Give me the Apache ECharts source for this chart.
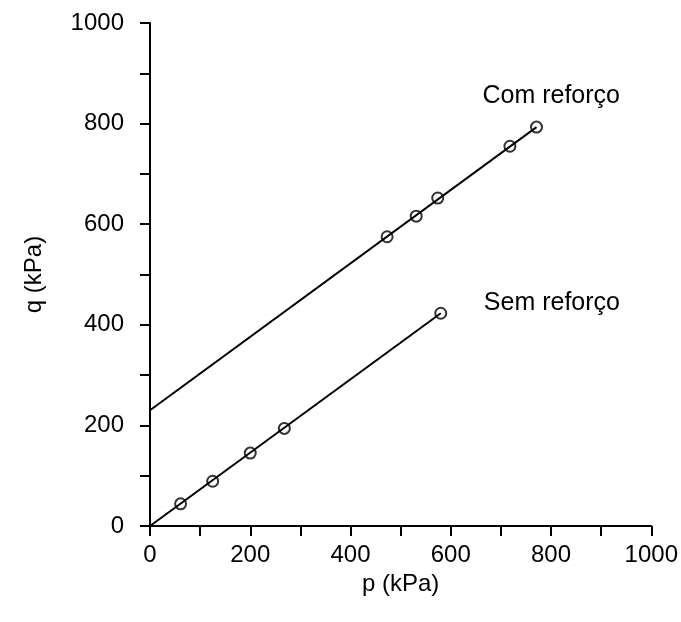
<!DOCTYPE html>
<html>
<head>
<meta charset="utf-8">
<script src="https://cdn.jsdelivr.net/npm/echarts@6/dist/echarts.min.js"></script>
<style>
  html, body { margin: 0; padding: 0; background: #fff; }
  #chart { width: 681px; height: 622px; }
</style>
</head>
<body>
<div id="chart"></div>
<script>
// Stress path data: p and q in kPa
const comReforcoP = [473, 531, 574, 718, 771];
const comReforcoQ = [575, 616, 652, 755, 793];
const semReforcoP = [61, 125, 200, 268, 580];
const semReforcoQ = [44, 89, 145, 194, 423];

// Fitted failure envelopes (start and end points)
const comLineP = [0, 771];
const comLineQ = [230, 793];
const semLineP = [0, 580];
const semLineQ = [0, 423];

const seriesNames = ['Com reforço', 'Sem reforço'];
const axisTicks = [0, 200, 400, 600, 800, 1000];

const pairs = (xs, ys) => xs.map((x, i) => [x, ys[i]]);

const FONT = 'Liberation Sans, Arial, sans-serif';
const FS = 24;

const chart = echarts.init(document.getElementById('chart'));

const axisCommon = {
  min: axisTicks[0],
  max: axisTicks[axisTicks.length - 1],
  interval: 200,
  nameLocation: 'middle',
  nameTextStyle: { fontFamily: FONT, fontSize: FS, color: '#000' },
  axisLine: { show: true, lineStyle: { color: '#000', width: 2 } },
  axisTick: { show: true, inside: false, length: 10, lineStyle: { color: '#000', width: 2 } },
  minorTick: { show: true, splitNumber: 2, length: 10, lineStyle: { color: '#000', width: 2 } },
  splitLine: { show: false },
  axisLabel: { fontFamily: FONT, fontSize: FS, color: '#000', formatter: v => String(v) }
};

chart.setOption({
  animation: false,
  backgroundColor: '#fff',
  grid: { left: 150, top: 23, width: 503, height: 503 },
  xAxis: Object.assign({}, axisCommon, {
    type: 'value',
    name: 'p (kPa)',
    nameGap: 45,
    axisLabel: Object.assign({}, axisCommon.axisLabel, { margin: 17 })
  }),
  yAxis: Object.assign({}, axisCommon, {
    type: 'value',
    name: 'q (kPa)',
    nameGap: 104,
    axisLabel: Object.assign({}, axisCommon.axisLabel, { margin: 26 })
  }),
  series: [
    {
      type: 'line',
      data: pairs(comLineP, comLineQ),
      symbol: 'none',
      lineStyle: { color: '#000', width: 2 },
      silent: true
    },
    {
      type: 'line',
      data: pairs(semLineP, semLineQ),
      symbol: 'none',
      lineStyle: { color: '#000', width: 2 },
      silent: true
    },
    {
      name: seriesNames[0],
      type: 'scatter',
      data: pairs(comReforcoP, comReforcoQ),
      symbol: 'circle',
      symbolSize: 11,
      itemStyle: { color: 'rgba(0,0,0,0)', borderColor: '#000', borderWidth: 2 }
    },
    {
      name: seriesNames[1],
      type: 'scatter',
      data: pairs(semReforcoP, semReforcoQ),
      symbol: 'circle',
      symbolSize: 11,
      itemStyle: { color: 'rgba(0,0,0,0)', borderColor: '#000', borderWidth: 2 }
    }
  ],
  graphic: [
    {
      type: 'text',
      x: 620, y: 96,
      style: { text: seriesNames[0], font: '25px ' + FONT, fill: '#000', textAlign: 'right', textVerticalAlign: 'middle' }
    },
    {
      type: 'text',
      x: 620, y: 303,
      style: { text: seriesNames[1], font: '25px ' + FONT, fill: '#000', textAlign: 'right', textVerticalAlign: 'middle' }
    }
  ]
});
</script>
</body>
</html>
